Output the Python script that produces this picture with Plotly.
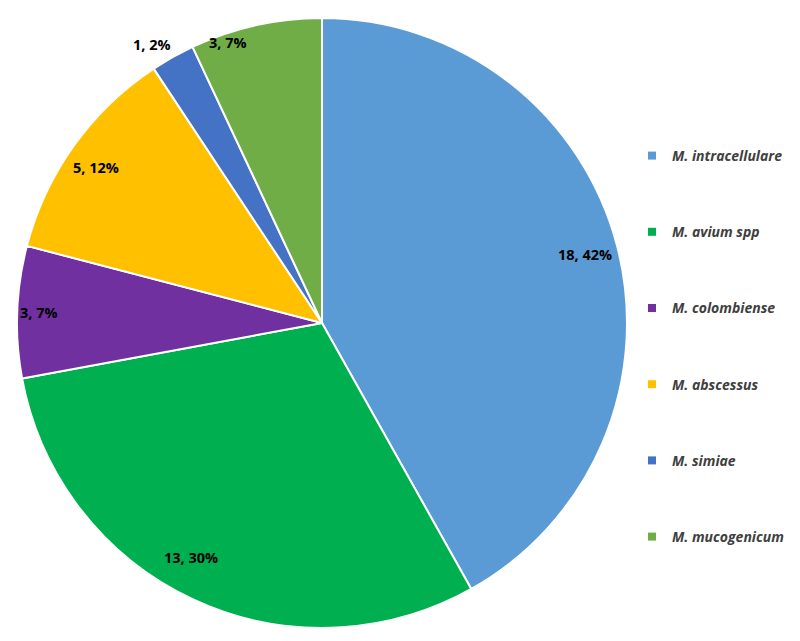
import math
import plotly.graph_objects as go

species = ["M. intracellulare", "M. avium spp", "M. colombiense",
           "M. abscessus", "M. simiae", "M. mucogenicum"]
counts = [18, 13, 3, 5, 1, 3]
colors = ["#5B9BD5", "#00B050", "#7030A0", "#FFC000", "#4472C4", "#70AD47"]

# label placement style: (radius fraction, angle offset deg)
label_style = [(0.89, 0), (0.88, 4), (0.93, 0), (0.90, -1), (1.07, -2), (0.97, -6)]

W, H = 800, 641
OFF = 8  # page body margin
cx, cy, R = 322 - OFF, 323 - OFF, 305

fig = go.Figure()
fig.add_trace(go.Pie(
    labels=species, values=counts, sort=False, direction="clockwise", rotation=0,
    marker=dict(colors=colors, line=dict(color="white", width=2)),
    textinfo="none", hoverinfo="label+value+percent", showlegend=False,
    domain=dict(x=[(cx - R) / W, (cx + R) / W], y=[(H - cy - R) / H, (H - cy + R) / H]),
))

total = sum(counts)
cum = 0
annotations = []
for v, (rf, off) in zip(counts, label_style):
    mid = (cum + v / 2) / total * 360 + off
    cum += v
    a = math.radians(mid)
    px = cx + rf * R * math.sin(a)
    py = cy - rf * R * math.cos(a)
    annotations.append(dict(
        x=px / W, y=1 - py / H, xref="paper", yref="paper", showarrow=False,
        text=f"{v}, {round(v / total * 100)}%",
        font=dict(family="Open Sans", size=14.5, color="#000000", weight="bold"),
        xanchor="center", yanchor="middle"))

for i, (name, c) in enumerate(zip(species, colors)):
    fig.add_trace(go.Scatter(
        x=[None], y=[None], mode="markers", name=name, legendgroup=f"g{i}",
        marker=dict(symbol="square", size=8, color=c), showlegend=True,
        hoverinfo="skip"))

fig.update_layout(
    width=W, height=H, margin=dict(l=0, r=0, t=0, b=0),
    paper_bgcolor="white", plot_bgcolor="rgba(0,0,0,0)",
    xaxis=dict(visible=False), yaxis=dict(visible=False),
    annotations=annotations,
    legend=dict(x=(632 - OFF) / W, y=1 - (140 - OFF) / H, xanchor="left", yanchor="top",
                tracegroupgap=55, itemwidth=30,
                font=dict(family="Open Sans", size=14, color="#404040",
                          style="italic", weight="bold"),
                bgcolor="rgba(0,0,0,0)"),
)

fig.write_html("out.html")
